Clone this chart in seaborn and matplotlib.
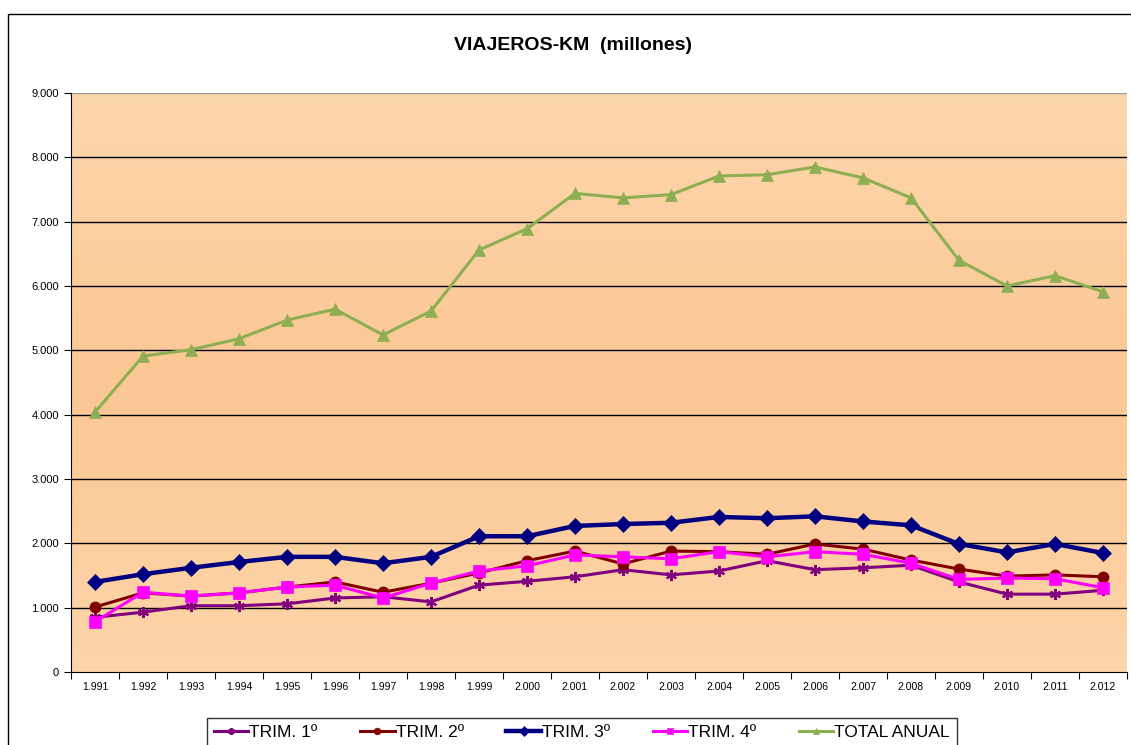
import numpy as np
import pandas as pd
import seaborn as sns
import matplotlib.pyplot as plt
from matplotlib.colors import LinearSegmentedColormap
from matplotlib.patches import Rectangle
from matplotlib.ticker import FuncFormatter, FixedLocator

years = list(range(1991, 2013))
year_labels = ["1.991", "1.992", "1.993", "1.994", "1.995", "1.996", "1.997", "1.998",
               "1.999", "2.000", "2.001", "2.002", "2.003", "2.004", "2.005", "2.006",
               "2.007", "2.008", "2.009", "2.010", "2.011", "2.012"]

trim1 = [850, 930, 1030, 1030, 1060, 1150, 1170, 1090, 1350, 1410, 1480, 1590,
         1510, 1570, 1730, 1590, 1620, 1660, 1400, 1210, 1210, 1270]
trim2 = [1010, 1230, 1180, 1230, 1320, 1400, 1240, 1380, 1540, 1730, 1880, 1680,
         1880, 1870, 1830, 1990, 1910, 1740, 1600, 1490, 1510, 1480]
trim3 = [1400, 1520, 1620, 1710, 1790, 1790, 1690, 1790, 2110, 2110, 2270, 2300,
         2320, 2410, 2390, 2420, 2340, 2280, 1990, 1860, 1990, 1850]
trim4 = [780, 1240, 1180, 1230, 1320, 1350, 1150, 1380, 1570, 1650, 1820, 1790,
         1760, 1870, 1790, 1870, 1830, 1690, 1440, 1460, 1450, 1310]
total = [4040, 4910, 5010, 5180, 5470, 5640, 5240, 5610, 6560, 6890, 7440, 7370,
         7420, 7710, 7730, 7850, 7680, 7370, 6400, 6000, 6160, 5910]

series_names = ["TRIM. 1º", "TRIM. 2º", "TRIM. 3º", "TRIM. 4º", "TOTAL ANUAL"]
series_vals = [trim1, trim2, trim3, trim4, total]
colors = ["#800080", "#800000", "#000080", "#FF00FF", "#8DAE52"]
markers = [(6, 2, 0), "o", "D", "s", "^"]
msizes = [8, 8, 8, 8, 8]
lwidths = [2.2, 2.2, 3.2, 2.2, 2.2]

df = pd.concat([pd.DataFrame({"pos": range(len(years)), "valor": v, "serie": n})
                for n, v in zip(series_names, series_vals)])

plt.rcParams["font.family"] = ["Liberation Sans", "DejaVu Sans"]

fig = plt.figure(figsize=(11.31, 7.45), dpi=100)
ax = fig.add_axes([71 / 1131, 1 - 672 / 745, (1127 - 71) / 1131, (672 - 93) / 745])

# peach gradient background
cmap = LinearSegmentedColormap.from_list("peach", ["#FDD7AC", "#FBC794", "#FDD5A9"])
grad = np.linspace(0, 1, 256).reshape(-1, 1)
ax.imshow(grad, cmap=cmap, aspect="auto", extent=(-0.5, 21.5, 0, 9000),
          origin="upper", zorder=0)

for i, n in enumerate(series_names):
    sns.lineplot(data=df[df["serie"] == n], x="pos", y="valor", ax=ax,
                 color=colors[i], marker=markers[i], markersize=msizes[i],
                 markeredgecolor=colors[i], markeredgewidth=1.5 if i == 0 else 0.5,
                 linewidth=lwidths[i], label=n, zorder=3 + (i == 2), legend=False)

ax.set_xlim(-0.5, 21.5)
ax.set_ylim(0, 9000)
ax.set_xlabel("")
ax.set_ylabel("")

ax.set_yticks(range(0, 9001, 1000))
ax.yaxis.set_major_formatter(FuncFormatter(lambda v, p: "0" if v == 0 else f"{int(v):,}".replace(",", ".")))
for y in range(1000, 9001, 1000):
    ax.axhline(y, color="#000000" if y < 9000 else "#999999", linewidth=1, zorder=1)

ax.xaxis.set_major_locator(FixedLocator(np.arange(-0.5, 22, 1)))
ax.xaxis.set_major_formatter(FuncFormatter(lambda v, p: ""))
ax.set_xticks(np.arange(0, 22, 1), labels=year_labels, minor=True)
ax.tick_params(axis="x", which="minor", length=0, labelsize=7.5, pad=7)
ax.tick_params(axis="x", which="major", length=5, direction="out", color="black")
ax.tick_params(axis="y", length=5, direction="out", labelsize=8, color="black")

for s in ["top", "right"]:
    ax.spines[s].set_visible(False)
ax.spines["left"].set_color("black")
ax.spines["bottom"].set_color("black")

fig.text(573 / 1131, 1 - 45 / 745, "VIAJEROS-KM  (millones)", ha="center", va="center",
         fontsize=14, fontweight="bold")

# outer chart border
fig.patches.append(Rectangle((8 / 1131, -0.05), 1.1, 1 - 14 / 745 + 0.05,
                             transform=fig.transFigure, fill=False,
                             edgecolor="black", linewidth=1))

handles, labels = ax.get_legend_handles_labels()
leg = fig.legend(handles, labels, loc="upper left", ncol=5,
                 bbox_to_anchor=(198 / 1131, 1 - 709 / 745), fontsize=12.5,
                 frameon=True, fancybox=False, edgecolor="black",
                 handlelength=2.0, handletextpad=0.05, columnspacing=2.45,
                 borderpad=0.4, markerscale=0.6)
leg.get_frame().set_linewidth(1)

fig.savefig("out.png", dpi=100)
